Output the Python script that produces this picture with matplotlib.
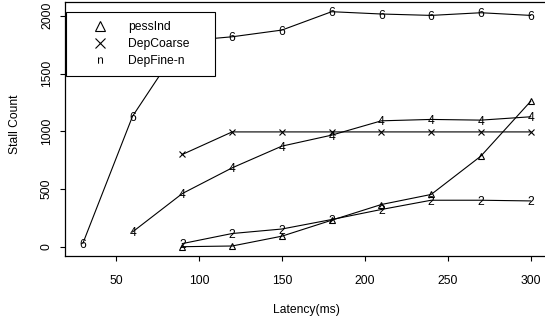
import matplotlib
matplotlib.use("Agg")
import matplotlib.pyplot as plt
from matplotlib.lines import Line2D

# ---- data ----
pess_x = [90, 120, 150, 180, 210, 240, 270, 300]
pess_y = [2, 8, 93, 231, 367, 454, 786, 1260]

coarse_x = [90, 120, 150, 180, 210, 240, 270, 300]
coarse_y = [800, 995, 995, 995, 995, 995, 995, 995]

fine6_x = [30, 60, 90, 120, 150, 180, 210, 240, 270, 300]
fine6_y = [30, 1131, 1780, 1818, 1876, 2035, 2015, 2003, 2026, 2003]

fine4_x = [60, 90, 120, 150, 180, 210, 240, 270, 300]
fine4_y = [130, 462, 684, 872, 967, 1091, 1103, 1097, 1126]

fine2_x = [90, 120, 150, 180, 210, 240, 270, 300]
fine2_y = [29, 116, 155, 237, 324, 404, 404, 398]

x_ticks = [50, 100, 150, 200, 250, 300]
y_ticks = [0, 500, 1000, 1500, 2000]

legend_labels = ["pessInd", "DepCoarse", "DepFine-n"]

plt.rcParams["font.family"] = ["Liberation Sans", "DejaVu Sans"]
FS = 8.7

W, H = 545, 321
fig = plt.figure(figsize=(W / 100, H / 100), dpi=100)
ax = fig.add_axes([64.9 / W, (H - 256.1) / H, (548.6 - 64.9) / W, (256.1 - 2.3) / H])

LW = 0.8
ax.plot(pess_x, pess_y, color="black", lw=LW, marker="^", ms=4.6,
        mfc="none", mec="black", mew=0.8)
ax.plot(coarse_x, coarse_y, color="black", lw=LW, marker="x", ms=4.3,
        mec="black", mew=0.8)

for xs, ys, lab in [(fine6_x, fine6_y, "6"), (fine4_x, fine4_y, "4"), (fine2_x, fine2_y, "2")]:
    ax.plot(xs, ys, color="black", lw=LW)
    for x, y in zip(xs, ys):
        ax.text(x, y, lab, ha="center", va="center_baseline", fontsize=FS, color="black")

# R-style limits (4% extension)
all_x = pess_x + coarse_x + fine6_x + fine4_x + fine2_x
all_y = pess_y + coarse_y + fine6_y + fine4_y + fine2_y
xr = max(all_x) - min(all_x)
yr = max(all_y) - min(all_y)
ax.set_xlim(min(all_x) - 0.04 * xr, max(all_x) + 0.04 * xr)
ax.set_ylim(min(all_y) - 0.04 * yr, max(all_y) + 0.04 * yr)

ax.set_xticks(x_ticks)
ax.set_yticks(y_ticks)
ax.tick_params(direction="out", length=3.6, width=0.8, labelsize=FS, colors="black")
ax.tick_params(axis="x", pad=9.7)
ax.tick_params(axis="y", pad=5.0)
for lab in ax.get_yticklabels():
    lab.set_rotation(90)
    lab.set_va("center")
for sp in ax.spines.values():
    sp.set_linewidth(0.9)
    sp.set_color("black")

fig.text(306.5 / W, 1 - 310 / H, "Latency(ms)", ha="center", va="center", fontsize=FS)
fig.text(15 / W, 1 - 124 / H, "Stall Count", ha="center", va="center",
         rotation=90, fontsize=FS)

handles = [
    Line2D([], [], ls="none", marker="^", ms=7.5, mfc="none", mec="black", mew=0.8),
    Line2D([], [], ls="none", marker="x", ms=7.2, mec="black", mew=0.8),
    Line2D([], [], ls="none", marker=r"$\mathregular{n}$", ms=4.6, mec="black", mfc="black", mew=0),
]
leg = ax.legend(handles, legend_labels, loc="upper left",
                bbox_to_anchor=(66 / W, 1 - 76 / H, 149 / W, 64 / H),
                bbox_transform=fig.transFigure, mode="expand", borderaxespad=0,
                fancybox=False, edgecolor="black", framealpha=1, fontsize=FS,
                borderpad=0.75, handlelength=4.13, handletextpad=0.25,
                labelspacing=0.42)
leg.get_frame().set_linewidth(0.8)

fig.savefig("out.png", dpi=100)
